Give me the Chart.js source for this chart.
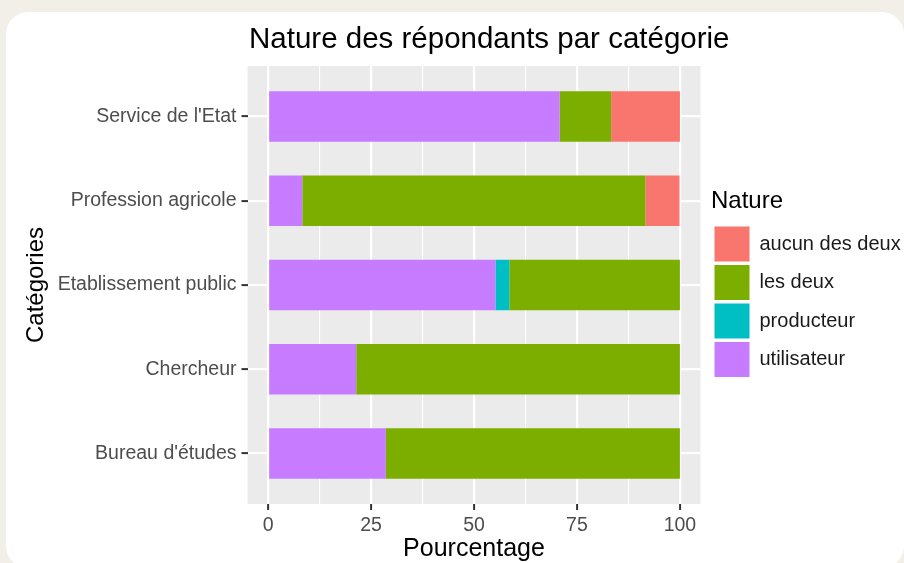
<!DOCTYPE html>
<html>
<head>
<meta charset="utf-8">
<script src="https://cdn.jsdelivr.net/npm/chart.js@4.4.1/dist/chart.umd.min.js"></script>
<style>
    html, body { margin: 0; padding: 0; width: 904px; height: 563px; overflow: hidden; background: #f2eee8; }
    #card { position: absolute; left: 6px; top: 12px; width: 898px; height: 556px; background: #fff; border-radius: 22px; }
    #natureChart { position: absolute; left: 0; top: 0; }
</style>
</head>
<body>
<div id="card"></div>
<canvas id="natureChart" width="904" height="563"></canvas>
<script>
// categories top to bottom
const categories = ["Service de l'Etat", "Profession agricole", "Etablissement public", "Chercheur", "Bureau d'études"];
const utilisateur = [70.8, 8.3, 55.2, 21.4, 28.6];
const producteur = [0, 0, 3.4, 0, 0];
const lesDeux = [12.5, 83.3, 41.4, 78.6, 71.4];
const aucunDesDeux = [16.7, 8.3, 0, 0, 0];
const xTicks = [0, 12.5, 25, 37.5, 50, 62.5, 75, 87.5, 100];

const chartTitle = 'Nature des répondants par catégorie';

Chart.defaults.font.family = '"Liberation Sans", Arial, sans-serif';

function toPoints(values) {
    return values.map((v, i) => ({ x: v, y: i }));
}

// grey panel + left aligned title, ggplot style
const panelPlugin = {
    id: 'panel',
    beforeLayout(chart) {
        const lg = chart.legend;
        if (lg && !lg._fixed) {
            const fit = lg.fit;
            lg.fit = function () {
                fit.call(this);
                this.width = 203.5;
            };
            lg._fixed = true;
        }
    },
    afterLayout(chart) {
        const lg = chart.legend;
        const w = lg.right - lg.left;
        lg.left = 711;
        lg.right = lg.left + w;
    },
    beforeDraw(chart) {
        const { ctx, chartArea } = chart;
        ctx.save();
        ctx.fillStyle = '#ebebeb';
        ctx.fillRect(chartArea.left, chartArea.top, chartArea.right - chartArea.left, chartArea.bottom - chartArea.top);
        ctx.restore();
    },
    afterDraw(chart) {
        const { ctx, chartArea } = chart;
        ctx.save();
        ctx.font = '29.5px "Liberation Sans", Arial, sans-serif';
        ctx.fillStyle = '#000';
        ctx.textBaseline = 'alphabetic';
        ctx.textAlign = 'left';
        ctx.fillText(chartTitle, chartArea.left + 1.5, 48);
        ctx.restore();
    }
};

const ctx = document.getElementById('natureChart').getContext('2d');
const natureChart = new Chart(ctx, {
    type: 'bar',
    data: {
        datasets: [{
            label: 'utilisateur',
            data: toPoints(utilisateur),
            backgroundColor: '#C77CFF'
        }, {
            label: 'producteur',
            data: toPoints(producteur),
            backgroundColor: '#00BFC4'
        }, {
            label: 'les deux',
            data: toPoints(lesDeux),
            backgroundColor: '#7CAE00'
        }, {
            label: 'aucun des deux',
            data: toPoints(aucunDesDeux),
            backgroundColor: '#F8766D'
        }]
    },
    options: {
        indexAxis: 'y',
        responsive: false,
        animation: false,
        layout: { padding: { left: 20, top: 66, right: 0, bottom: 1 } },
        datasets: {
            bar: { borderWidth: 0, barPercentage: 0.6, categoryPercentage: 1 }
        },
        plugins: {
            title: { display: false },
            tooltip: { enabled: false },
            legend: {
                position: 'right',
                fullSize: false,
                reverse: true,
                align: 'center',
                title: {
                    display: true,
                    text: 'Nature',
                    position: 'start',
                    color: '#000',
                    font: { size: 24 },
                    padding: { top: 0, bottom: 4.7 }
                },
                labels: {
                    boxWidth: 35,
                    boxHeight: 35,
                    padding: 3.5,
                    color: '#1a1a1a',
                    font: { size: 20 }
                }
            }
        },
        scales: {
            x: {
                type: 'linear',
                stacked: true,
                min: -5,
                max: 105,
                afterBuildTicks: (scale) => { scale.ticks = xTicks.map(v => ({ value: v })); },
                afterFit: (scale) => { scale.height = 58; },
                border: { display: false },
                grid: {
                    color: '#ffffff',
                    lineWidth: (c) => (c.tick && c.tick.value % 25 === 0) ? 2.2 : 1.1,
                    tickColor: (c) => (c.tick && c.tick.value % 25 === 0) ? '#333333' : 'rgba(0,0,0,0)',
                    tickWidth: 2,
                    tickLength: 6
                },
                ticks: {
                    autoSkip: false,
                    maxRotation: 0,
                    padding: 4,
                    color: '#4d4d4d',
                    font: { size: 19.5 },
                    callback: (v) => v % 25 === 0 ? v : ''
                },
                title: {
                    display: true,
                    text: 'Pourcentage',
                    color: '#000',
                    font: { size: 25, lineHeight: 1 },
                    padding: { top: 0, bottom: 0.5 }
                }
            },
            y: {
                type: 'linear',
                stacked: true,
                reverse: true,
                offset: false,
                min: -0.6,
                max: 4.6,
                afterBuildTicks: (scale) => { scale.ticks = categories.map((c, i) => ({ value: i })); },
                afterFit: (scale) => { scale.width = 227.5; },
                border: { display: false },
                grid: {
                    offset: false,
                    color: '#ffffff',
                    lineWidth: 2.2,
                    tickColor: '#333333',
                    tickWidth: 2,
                    tickLength: 6
                },
                ticks: {
                    autoSkip: false,
                    padding: 5,
                    color: '#4d4d4d',
                    font: { size: 19.5 },
                    callback: (v) => categories[v]
                },
                title: {
                    display: true,
                    text: 'Catégories',
                    color: '#000',
                    font: { size: 24 },
                    padding: { top: 2, bottom: 0 }
                }
            }
        }
    },
    plugins: [panelPlugin]
});
</script>
</body>
</html>
